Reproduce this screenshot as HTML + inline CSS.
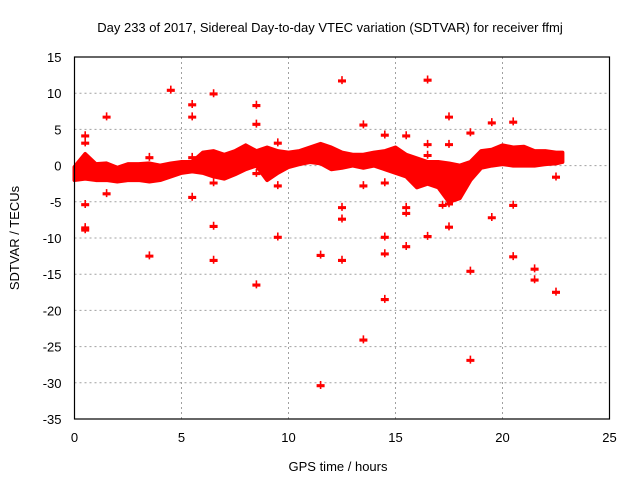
<!DOCTYPE html>
<html><head><meta charset="utf-8"><style>
body{margin:0;background:#fff}
svg text{font-family:"Liberation Sans",sans-serif;font-size:13px;fill:#000}
</style></head><body>
<svg id="c" width="640" height="480" xmlns="http://www.w3.org/2000/svg">
<text x="330" y="32" text-anchor="middle">Day 233 of 2017, Sidereal Day-to-day VTEC variation (SDTVAR) for receiver ffmj</text>
<text x="338" y="471" text-anchor="middle">GPS time / hours</text>
<text transform="translate(19,238) rotate(-90)" text-anchor="middle">SDTVAR / TECUs</text>
<g id="grid"></g><g id="band"></g><g id="pts"></g><g id="axes"></g>
</svg>
<script>
const xTicks=[0,5,10,15,20,25];
const yTicks=[15,10,5,0,-5,-10,-15,-20,-25,-30,-35];
const bandTimes=[0,0.5,1,1.5,2,2.5,3,3.5,4,4.5,5,5.5,6,6.5,7,7.5,8,8.5,9,9.5,10,10.5,11,11.5,12,12.5,13,13.5,14,14.5,15,15.5,16,16.5,17,17.5,18,18.5,19,19.5,20,20.5,21,21.5,22,22.5,22.8];
const bandHigh=[-0.2,1.6,0.2,0.3,-0.3,0.2,0.2,0.3,0,0.3,0.5,0.5,1.8,2,1.5,2,2.8,2,2.5,2,1.8,2,2.5,3,2.5,1.8,1.5,1.5,1.8,2,2.5,1.5,1,0.5,0.5,0.3,0,0.5,2,2.2,2.8,2.5,2.6,2,2,1.8,1.8];
const bandLow=[-2,-1.8,-2,-2,-2.2,-2,-2,-2.2,-2,-1.5,-1,-0.8,-1,-1.5,-1.8,-1.2,-0.5,0,-2,-1,-0.2,0.2,0.5,0.3,-0.5,-0.3,0,-0.3,0,-0.5,-1,-1.5,-3,-2.5,-3,-5,-4.5,-2,-0.3,0,0.2,0,0,0,0.2,0.3,0.5];
const outT=[0.5,0.5,0.5,0.5,0.5,1.5,1.5,3.5,3.5,4.5,5.5,5.5,5.5,5.5,6.5,6.5,6.5,6.5,8.5,8.5,8.5,8.5,9.5,9.5,9.5,11.5,11.5,12.5,12.5,12.5,12.5,13.5,13.5,13.5,14.5,14.5,14.5,14.5,14.5,15.5,15.5,15.5,15.5,16.5,16.5,16.5,16.5,17.5,17.5,17.5,18.5,18.5,18.5,19.5,19.5,20.5,20.5,20.5,21.5,21.5,22.5,22.5,17.2,17.5];
const outV=[4.2,3.2,-5.3,-8.5,-8.8,6.8,-3.8,-12.4,1.2,10.5,8.5,6.8,-4.3,1.2,10,-8.3,-13,-2.3,8.4,5.8,-16.4,-1,3.2,-2.7,-9.8,-12.3,-30.3,11.8,-5.7,-7.3,-13,5.7,-2.7,-24,4.3,-2.3,-9.8,-12.1,-18.4,4.2,-5.7,-6.5,-11.1,11.9,3,1.5,-9.7,6.8,3,-8.4,4.6,-14.5,-26.8,6,-7.1,6.1,-5.4,-12.5,-14.2,-15.7,-1.5,-17.4,-5.4,-5.2];
const X0=74.5,X1=609.5,Y0=57,Y1=419;
const xs=v=>X0+(v-0)/25*(X1-X0);
const ys=v=>Y0+(15-v)/50*(Y1-Y0);
const NS="http://www.w3.org/2000/svg";
function mk(t,a,p){const e=document.createElementNS(NS,t);for(const k in a)e.setAttribute(k,a[k]);p.appendChild(e);return e;}
const grid=document.getElementById('grid'),axes=document.getElementById('axes');
xTicks.forEach(t=>{
 if(t>0&&t<25){const l=mk('line',{x1:xs(t),x2:xs(t),y1:Y0,y2:Y1,stroke:'#a0a0a0','stroke-dasharray':'2,3'},grid);
 
 }
 const tx=mk('text',{x:xs(t),y:Y1+23,'text-anchor':'middle'},axes);tx.textContent=t;
 
 
});
yTicks.forEach(t=>{
 if(t<15&&t>-35){const l=mk('line',{x1:X0,x2:X1,y1:ys(t),y2:ys(t),stroke:'#a0a0a0','stroke-dasharray':'2,3'},grid);
 
 }
 const tx=mk('text',{x:X0-13,y:ys(t)+5,'text-anchor':'end'},axes);tx.textContent=t;
 
 
});
const fr=mk('rect',{x:X0,y:Y0,width:X1-X0,height:Y1-Y0,fill:'none',stroke:'#000','stroke-width':1.2},axes);


let pts=bandTimes.map((t,i)=>xs(t)+','+ys(bandHigh[i]));
for(let i=bandTimes.length-1;i>=0;i--)pts.push(xs(bandTimes[i])+','+ys(bandLow[i]));
const band=mk('polygon',{points:pts.join(' '),fill:'#ff0000',stroke:'#ff0000','stroke-width':4,'stroke-linejoin':'round'},document.getElementById('band'));


const pg=document.getElementById('pts');
outT.forEach((t,i)=>{
 const x=xs(t),y=ys(outV[i]);
 const p=mk('path',{d:`M${x-4},${y}H${x+4}M${x},${y-4}V${y+4}M${x-4},${y+1.5}H${x+4}`,stroke:'#ff0000','stroke-width':1.6,fill:'none'},pg);
 
 
});
</script>
</body></html>
